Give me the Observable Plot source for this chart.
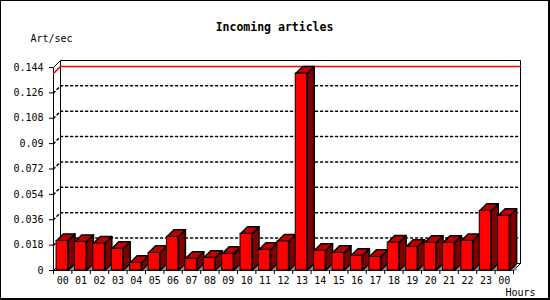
<!DOCTYPE html>
<html><head><meta charset="utf-8">
<script src="https://cdn.jsdelivr.net/npm/d3@7"></script>
<script src="https://cdn.jsdelivr.net/npm/@observablehq/plot@0.6"></script>
<style>
html,body{margin:0;padding:0;background:#fff;}
#wrap{position:relative;width:550px;height:300px;overflow:hidden;background:#fff;}
#wrap svg{display:block;}
#border{position:absolute;left:0;top:0;width:550px;height:300px;box-sizing:border-box;border-style:solid;border-color:#000;border-width:1px 2px 2px 1px;pointer-events:none;}
</style></head><body>
<div id="wrap"><div id="border"></div></div>
<script>
// ---- data ----
const hours = ["00","01","02","03","04","05","06","07","08","09","10","11","12","13","14","15","16","17","18","19","20","21","22","23","00"];
const artPerSec = [0.0210,0.0203,0.0191,0.0154,0.0055,0.0125,0.0239,0.0083,0.0090,0.0118,0.0260,0.0147,0.0206,0.1397,0.0140,0.0125,0.0104,0.0097,0.0198,0.0168,0.0196,0.0196,0.0210,0.0423,0.0388];
const yTicks = [0,0.018,0.036,0.054,0.072,0.09,0.108,0.126,0.144];
const title = "Incoming articles";
const yLabel = "Art/sec";
const xLabel = "Hours";

// ---- 3D geometry (in data units) ----
const n = hours.length;
const yMax = 0.144;
const DX = 0.38;      // depth along x (band units)
const DY = 0.00497;   // depth along y (value units)

const poly = (id, pts) => pts.map(([x, y]) => ({id, x, y}));
const bars = artPerSec.map((v, i) => ({i, v, x0: i + 0.165, x1: i + 0.79}));
const shadows = bars.flatMap(b => poly(b.i, [[b.x1,0],[b.x1+DX,DY],[b.x1+DX,0],[b.x1,0]]));
const sides = bars.flatMap(b => poly(b.i, [[b.x1,0],[b.x1,b.v],[b.x1+DX,b.v+DY],[b.x1+DX,DY],[b.x1,0]]));
const tops = bars.flatMap(b => poly(b.i, [[b.x0,b.v],[b.x1,b.v],[b.x1+DX,b.v+DY],[b.x0+DX,b.v+DY],[b.x0,b.v]]));
const grid = yTicks.filter(t => t > 0 && t < yMax).flatMap(t => poly(t, [[0,t],[DX,t+DY],[n+DX,t+DY]]));
const maxV = d3.max(artPerSec);
const maxLine = poly("max", [[0,maxV],[DX,maxV+DY],[n+DX,maxV+DY]]);
const frame3d = [
  poly("back", [[DX,DY],[n+DX,DY],[n+DX,yMax+DY],[DX,yMax+DY],[DX,DY]]),
  poly("left", [[DX,yMax+DY],[0,yMax],[0,0],[DX,DY]]),
  poly("floor", [[0,0],[n,0],[n+DX,DY]])
].flat();

const xy = {x: "x", y: "y", z: "id"};
const chart = Plot.plot({
  width: 550, height: 300,
  marginLeft: 53, marginRight: 37, marginTop: 67, marginBottom: 30,
  style: {fontFamily: "'DejaVu Sans Mono', monospace", fontSize: "10px", background: "white", color: "black", overflow: "visible"},
  x: {domain: [0, n], label: null},
  y: {domain: [0, yMax], label: null},
  marks: [
    Plot.line(frame3d, {...xy, stroke: "black", strokeWidth: 1}),
    Plot.line(grid, {...xy, stroke: "black", strokeDasharray: "2,3"}),
    Plot.line(maxLine, {...xy, stroke: "red"}),
    Plot.line(shadows, {...xy, fill: "#8c8c8c", stroke: "none"}),
    Plot.line(sides, {...xy, fill: "#800000", stroke: "black"}),
    Plot.line(tops, {...xy, fill: "#c00000", stroke: "black"}),
    Plot.rect(bars, {x1: "x0", x2: "x1", y1: 0, y2: "v", fill: "#ff0000", stroke: "black"}),
    Plot.axisY({ticks: yTicks, tickSize: 4, tickPadding: 6, tickFormat: d => String(d)}),
    Plot.axisX({ticks: d3.range(n + 1), tickSize: 4, tickFormat: () => ""}),
    Plot.text(hours, {x: (d, i) => i + 0.5, y: () => 0, dy: 10, text: d => d}),
    Plot.text([title], {frameAnchor: "top", lineAnchor: "middle", dx: -9, dy: -40, text: d => d, fontWeight: "bold", fontSize: 11.5}),
    Plot.text([yLabel], {frameAnchor: "top-left", lineAnchor: "middle", textAnchor: "start", dx: -23, dy: -29, text: d => d}),
    Plot.text([xLabel], {frameAnchor: "bottom-right", lineAnchor: "middle", textAnchor: "end", dx: 22, dy: 22, text: d => d})
  ]
});
document.getElementById("wrap").prepend(chart);
</script>
</body></html>
